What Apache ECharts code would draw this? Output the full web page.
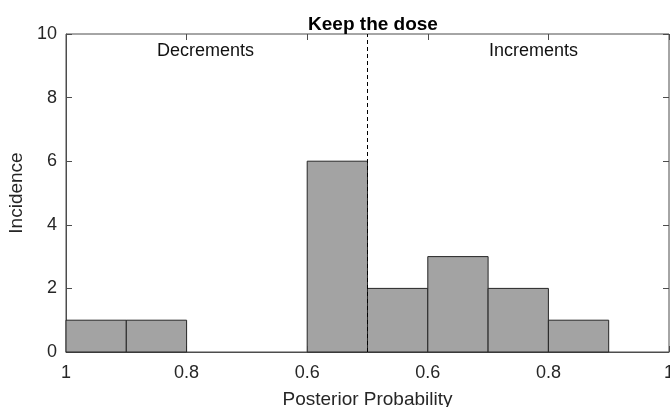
<!DOCTYPE html>
<html>
<head>
<meta charset="utf-8">
<script src="https://cdn.jsdelivr.net/npm/echarts@6/dist/echarts.min.js"></script>
<style>
  html, body { margin: 0; padding: 0; background: #fff; }
  #chart { width: 670px; height: 407px; }
</style>
</head>
<body>
<div id="chart"></div>
<script>
// bins: decrements run 1 -> 0.5 on the left half, increments 0.5 -> 1 on the right half
var decBins = [[1.0, 0.9], [0.9, 0.8], [0.8, 0.7], [0.7, 0.6], [0.6, 0.5]];
var decCounts = [1, 1, 0, 0, 6];
var incBins = [[0.5, 0.6], [0.6, 0.7], [0.7, 0.8], [0.8, 0.9], [0.9, 1.0]];
var incCounts = [2, 3, 2, 1, 0];
var tickLabels = ['1', '0.8', '0.6', '0.6', '0.8', '1'];
var yTicks = [0, 2, 4, 6, 8, 10];

// position on the axis: left half = 1 - p, right half = p
var barData = [];
decBins.forEach(function (b, i) {
    barData.push([1 - b[0], 1 - b[1], decCounts[i]]);
});
incBins.forEach(function (b, i) {
    barData.push([b[0], b[1], incCounts[i]]);
});

function tj_hist() {
    var myChart = echarts.init(document.getElementById('chart'));
    var fontFam = 'Liberation Sans, Arial, sans-serif';
    var axisCol = '#4d4d4d';
    var tickLen = 6;

    // tick-only axis pushed into the plot by tickLen, so its outward ticks look like inside ticks
    function tickAxis(pos, max, interval) {
        return {
            type: 'value',
            position: pos,
            offset: -tickLen,
            min: 0,
            max: max,
            interval: interval,
            axisLine: {show: true, onZero: false, lineStyle: {color: axisCol, width: 1, opacity: 0}},
            axisTick: {show: true, inside: false, length: tickLen, lineStyle: {color: axisCol, width: 1}},
            axisLabel: {show: false},
            splitLine: {show: false}
        };
    }

    var option = {
        animation: false,
        title: {
            text: 'Keep the dose',
            left: 368,
            textAlign: 'center',
            top: 10,
            textStyle: {color: '#000', fontSize: 19, fontWeight: 'bold', fontFamily: fontFam}
        },
        grid: {
            left: 66, right: 1, top: 34, bottom: 55,
            outerBoundsMode: 'none',
            containLabel: false,
            show: true, borderColor: axisCol, borderWidth: 1
        },
        xAxis: [
            {
                type: 'value',
                min: 0,
                max: 1,
                interval: 0.2,
                name: 'Posterior Probability',
                nameLocation: 'middle',
                nameGap: 38,
                nameTextStyle: {color: '#262626', fontSize: 19, fontFamily: fontFam},
                axisLine: {show: true, lineStyle: {color: axisCol, width: 1}},
                axisTick: {show: false},
                splitLine: {show: false},
                axisLabel: {
                    color: '#262626',
                    fontSize: 18,
                    fontFamily: fontFam,
                    margin: 12,
                    formatter: function (v, idx) { return tickLabels[idx]; }
                }
            },
            tickAxis('bottom', 1, 0.2),
            tickAxis('top', 1, 0.2)
        ],
        yAxis: [
            {
                type: 'value',
                min: 0,
                max: 10,
                interval: 2,
                name: 'Incidence',
                nameLocation: 'middle',
                nameGap: 35,
                nameTextStyle: {color: '#262626', fontSize: 19, fontFamily: fontFam},
                axisLine: {show: true, lineStyle: {color: axisCol, width: 1}},
                axisTick: {show: false},
                splitLine: {show: false},
                axisLabel: {
                    color: '#262626',
                    fontSize: 18,
                    fontFamily: fontFam,
                    margin: 9,
                    formatter: function (v, idx) { return String(yTicks[idx]); }
                }
            },
            tickAxis('left', 10, 2),
            tickAxis('right', 10, 2)
        ],
        graphic: [
            {type: 'text', left: 157, top: 42, style: {text: 'Decrements', fill: '#111', font: '18px ' + fontFam}},
            {type: 'text', left: 489, top: 42, style: {text: 'Increments', fill: '#111', font: '18px ' + fontFam}}
        ],
        series: [
            {
                type: 'custom',
                z: 2,
                renderItem: function (params, api) {
                    var p0 = api.coord([api.value(0), 0]);
                    var p1 = api.coord([api.value(1), api.value(2)]);
                    if (api.value(2) === 0) return null;
                    return {
                        type: 'rect',
                        shape: {x: p0[0], y: p1[1], width: p1[0] - p0[0], height: p0[1] - p1[1]},
                        style: {fill: '#a3a3a3', stroke: '#262626', lineWidth: 1}
                    };
                },
                encode: {x: [0, 1], y: 2},
                data: barData,
                markLine: {
                    silent: true,
                    symbol: 'none',
                    label: {show: false},
                    lineStyle: {color: '#000', type: [4, 3], width: 1},
                    data: [{xAxis: 0.5}]
                }
            },
            // invisible anchor points so the tick-only axes get drawn
            {type: 'scatter', xAxisIndex: 1, yAxisIndex: 1, symbolSize: 0, silent: true, data: [[0, 0]]},
            {type: 'scatter', xAxisIndex: 2, yAxisIndex: 2, symbolSize: 0, silent: true, data: [[0, 0]]}
        ]
    };
    myChart.setOption(option);
}
tj_hist();
</script>
</body>
</html>
